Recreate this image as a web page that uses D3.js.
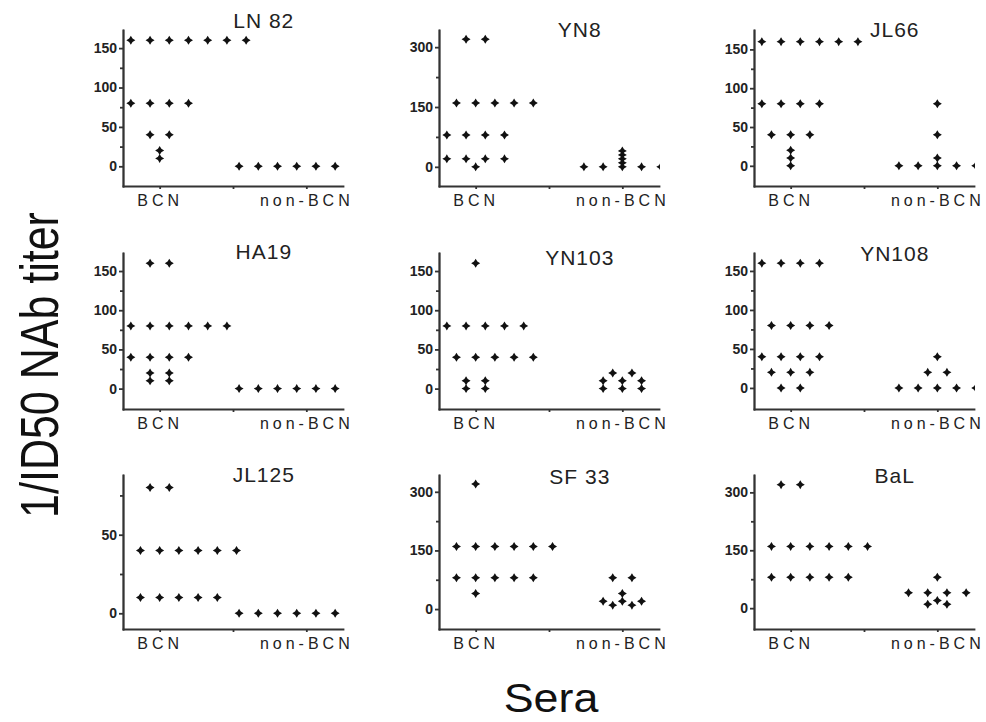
<!DOCTYPE html>
<html lang="en">
<head>
<meta charset="UTF-8">
<title>NAb titers by sera</title>
<script src="https://d3js.org/d3.v7.min.js"></script>
<style>
    body { margin: 0; background: #fff; font-family: Arial, "Liberation Sans", sans-serif; }
    .axis path, .axis line { stroke: #333; stroke-width: 1.8; }
    .axis text { fill: #222; font-family: Arial, "Liberation Sans", sans-serif; }
    .ytick text { font-size: 14px; font-weight: bold; }
    .xtick text { font-size: 16px; letter-spacing: 4px; }
    .title { font-size: 21px; letter-spacing: 1px; fill: #222; }
</style>
</head>
<body>
<div id="chart"></div>
<script>
// panel names, in reading order
const panelNames = ["LN 82", "YN8", "JL66", "HA19", "YN103", "YN108", "JL125", "SF 33", "BaL"];
const groupLabels = ["BCN", "non-BCN"];

// y ranges and ticks per panel
const panelDomains = [[-25, 173], [-48, 343], [-26, 175], [-26, 173], [-26, 173], [-27, 173], [-10, 88], [-51, 343], [-54, 345]];
const majorTicks = [[0, 50, 100, 150], [0, 150, 300], [0, 50, 100, 150], [0, 50, 100, 150], [0, 50, 100, 150],
                    [0, 50, 100, 150], [0, 50], [0, 150, 300], [0, 150, 300]];
const minorTicks = [[25, 75, 125], [75, 225], [25, 75, 125], [25, 75, 125], [25, 75, 125],
                    [25, 75, 125], [25, 75], [75, 225], [75, 225]];

// points: [group (0 = BCN, 1 = non-BCN), titer, slots of the dots in that row]
const ptsLN82 = [[0, 160, [-1.5, -0.5, 0.5, 1.5, 2.5, 3.5, 4.5]], [0, 80, [-1.5, -0.5, 0.5, 1.5]], [0, 40, [-0.5, 0.5]],
                 [0, 20, [0]], [0, 10, [0]], [1, 0, [-3.5, -2.5, -1.5, -0.5, 0.5, 1.5]]];
const ptsYN8 = [[0, 320, [-0.5, 0.5]], [0, 160, [-1, 0, 1, 2, 3]], [0, 80, [-1.5, -0.5, 0.5, 1.5]],
                [0, 20, [-1.5, -0.5, 0.5, 1.5]], [0, 0, [0]],
                [1, 0, [-2, -1, 0, 1, 2]], [1, 10, [0]], [1, 20, [0]], [1, 30, [0]], [1, 40, [0]]];
const ptsJL66 = [[0, 160, [-1.5, -0.5, 0.5, 1.5, 2.5, 3.5]], [0, 80, [-1.5, -0.5, 0.5, 1.5]], [0, 40, [-1, 0, 1]],
                 [0, 20, [0]], [0, 10, [0]], [0, 0, [0]],
                 [1, 0, [-2, -1, 0, 1, 2]], [1, 10, [0]], [1, 40, [0]], [1, 80, [0]]];
const ptsHA19 = [[0, 160, [-0.5, 0.5]], [0, 80, [-1.5, -0.5, 0.5, 1.5, 2.5, 3.5]], [0, 40, [-1.5, -0.5, 0.5, 1.5]],
                 [0, 20, [-0.5, 0.5]], [0, 10, [-0.5, 0.5]], [1, 0, [-3.5, -2.5, -1.5, -0.5, 0.5, 1.5]]];
const ptsYN103 = [[0, 160, [0]], [0, 80, [-1.5, -0.5, 0.5, 1.5, 2.5]], [0, 40, [-1, 0, 1, 2, 3]],
                  [0, 10, [-0.5, 0.5]], [0, 0, [-0.5, 0.5]],
                  [1, 20, [-0.5, 0.5]], [1, 10, [-1, 0, 1]], [1, 0, [-1, 0, 1]]];
const ptsYN108 = [[0, 160, [-1.5, -0.5, 0.5, 1.5]], [0, 80, [-1, 0, 1, 2]], [0, 40, [-1.5, -0.5, 0.5, 1.5]],
                  [0, 20, [-1, 0, 1]], [0, 0, [-0.5, 0.5]],
                  [1, 40, [0]], [1, 20, [-0.5, 0.5]], [1, 0, [-2, -1, 0, 1, 2]]];
const ptsJL125 = [[0, 80, [-0.5, 0.5]], [0, 40, [-1, 0, 1, 2, 3, 4]], [0, 10, [-1, 0, 1, 2, 3]],
                  [1, 0, [-3.5, -2.5, -1.5, -0.5, 0.5, 1.5]]];
const ptsSF33 = [[0, 320, [0]], [0, 160, [-1, 0, 1, 2, 3, 4]], [0, 80, [-1, 0, 1, 2, 3]], [0, 40, [0]],
                 [1, 80, [-0.5, 0.5]], [1, 40, [0]], [1, 20, [-1, 0, 1]], [1, 10, [-0.5, 0.5]]];
const ptsBaL = [[0, 320, [-0.5, 0.5]], [0, 160, [-1, 0, 1, 2, 3, 4]], [0, 80, [-1, 0, 1, 2, 3]],
                [1, 80, [0]], [1, 40, [-1.5, -0.5, 0.5, 1.5]], [1, 20, [0]], [1, 10, [-0.5, 0.5]]];
const panelPoints = [ptsLN82, ptsYN8, ptsJL66, ptsHA19, ptsYN103, ptsYN108, ptsJL125, ptsSF33, ptsBaL];

// layout
const W = 986, H = 722;
const colLeft = [123, 439, 754];
const rowTop = [30, 253, 475];
const rowH = [156, 156, 154];
const plotW = 220;
const slotW = 0.262;          // horizontal spacing between dots, in x units
const groupX = [1, 3];
const titleDy = [-2, 7, 7, 6, 12, 8, 7, 9, 8];

const svg = d3.select("#chart").append("svg")
    .attr("width", W)
    .attr("height", H);

// four-pointed marker
function markerPath(r, w) {
    return `M0,${-r}L${w},${-w}L${r},0L${w},${w}L0,${r}L${-w},${w}L${-r},0L${-w},${-w}Z`;
}

panelNames.forEach((name, i) => {
    const col = i % 3, row = Math.floor(i / 3);
    const h = rowH[row];
    const g = svg.append("g").attr("transform", `translate(${colLeft[col]},${rowTop[row]})`);

    const x = d3.scaleLinear().domain([0.5, 3.5]).range([0, plotW]);
    const y = d3.scaleLinear().domain(panelDomains[i]).range([h, 0]);

    g.append("clipPath").attr("id", "clip" + i)
        .append("rect").attr("x", -10).attr("y", -10).attr("width", plotW + 11).attr("height", h + 20);

    // minor ticks
    g.append("g").attr("class", "axis")
        .call(d3.axisLeft(y).tickValues(minorTicks[i]).tickSize(3).tickSizeOuter(0).tickFormat(""));
    // major ticks and axis line
    g.append("g").attr("class", "axis ytick")
        .call(d3.axisLeft(y).tickValues(majorTicks[i]).tickSize(4).tickSizeOuter(0).tickPadding(2));

    g.append("g").attr("class", "axis xtick")
        .attr("transform", `translate(0,${h})`)
        .call(d3.axisBottom(x).tickValues([1, 2, 3]).tickSize(3).tickSizeOuter(0).tickPadding(6)
            .tickFormat(d => d === 1 ? groupLabels[0] : d === 3 ? groupLabels[1] : ""));

    g.selectAll(".axis .domain").attr("stroke-linecap", "square");

    const pts = [];
    panelPoints[i].forEach(([grp, v, slots]) => {
        slots.forEach(s => pts.push({ x: groupX[grp] + s * slotW, v: v }));
    });

    g.append("g").attr("clip-path", `url(#clip${i})`)
        .selectAll("path.dot")
        .data(pts)
        .join("path")
        .attr("class", "dot")
        .attr("transform", d => `translate(${x(d.x)},${y(d.v)})`)
        .attr("d", markerPath(4.5, 1.7))
        .attr("fill", "#111");

    g.append("text")
        .attr("class", "title")
        .attr("text-anchor", "middle")
        .attr("x", x(2.42))
        .attr("y", titleDy[i])
        .text(name);
});

// axis titles
svg.append("text")
    .attr("text-anchor", "middle")
    .attr("transform", "translate(58,365) scale(1.25,1) rotate(-90)")
    .style("font-size", "43px")
    .attr("fill", "#111")
    .text("1/ID50 NAb titer");

svg.append("text")
    .attr("text-anchor", "middle")
    .attr("transform", "translate(551,712) scale(1.12,1)")
    .style("font-size", "40px")
    .attr("fill", "#111")
    .text("Sera");
</script>
</body>
</html>
